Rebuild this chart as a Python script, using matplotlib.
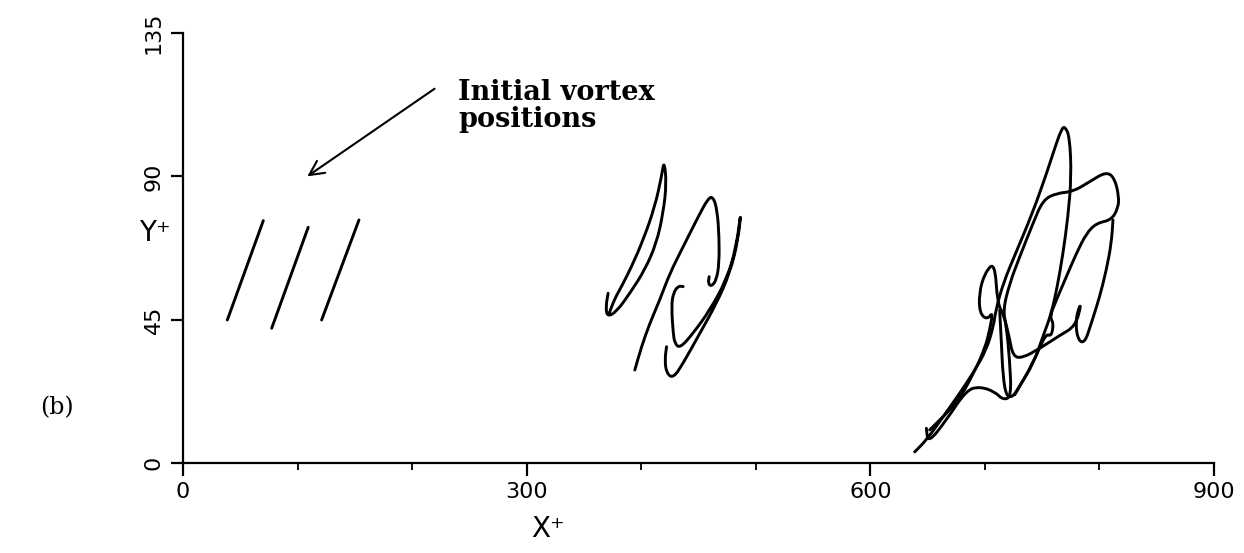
import matplotlib
matplotlib.use('Agg')
import matplotlib.pyplot as plt
from matplotlib.path import Path
from matplotlib.patches import PathPatch
import numpy as np

# initial vortex lines (x, y)
init_1 = [(38.7, 44.9), (70.1, 76.1)]
init_2 = [(77.4, 42.3), (109.3, 74.0)]
init_3 = [(121.0, 44.9), (153.6, 76.3)]

# middle time: three deformed vortices
mid_1 = [(371.1, 53.3), (369.1, 49.1), (370.3, 45.9), (378.4, 47.5), (390.1, 53.3),
         (403.1, 60.6), (413.3, 69.0), (419.1, 78.4), (422.1, 87.8), (420.0, 95.1),
         (417.7, 89.9), (411.9, 80.5), (401.7, 70.0), (391.5, 61.6), (382.8, 55.4),
         (377.0, 51.7), (372.0, 47.0)]
mid_2 = [(394.4, 29.2), (400.2, 36.5), (407.5, 43.9), (416.2, 51.2), (425.0, 59.6),
         (436.6, 67.9), (449.7, 77.3), (458.4, 83.1), (462.8, 83.6), (466.3, 79.4),
         (468.0, 71.1), (468.0, 62.7), (465.7, 57.5), (461.3, 55.4), (458.4, 56.4),
         (459.3, 58.5)]
mid_3 = [(436.6, 55.4), (432.2, 55.6), (427.9, 53.3), (426.4, 49.1), (427.9, 40.7),
         (429.3, 37.6), (433.7, 36.0), (445.3, 40.7), (459.9, 48.0), (474.4, 57.5),
         (483.1, 67.9), (487.5, 80.5), (484.6, 70.0), (477.3, 59.6), (465.7, 50.1),
         (451.1, 40.7), (436.6, 31.3), (427.9, 26.6), (422.1, 28.2), (420.6, 32.3),
         (422.1, 36.5)]

# late time: three deformed vortices
late_1 = [(638.7, 3.5), (648.9, 7.2), (663.5, 14.5), (678.0, 21.9), (689.6, 28.2),
          (701.3, 35.5), (707.5, 43.0), (709.5, 48.0), (716.0, 56.5), (727.0, 66.0),
          (741.0, 78.0), (753.0, 90.0), (762.0, 100.0), (766.7, 104.6), (769.6, 105.8),
          (774.0, 102.5), (775.5, 89.9), (772.5, 77.3), (768.2, 65.8), (763.0, 55.0),
          (758.0, 47.0), (751.0, 40.0), (742.0, 31.0), (730.0, 24.0), (724.5, 20.8),
          (718.8, 20.8), (715.8, 27.1), (714.4, 37.6), (712.9, 48.0)]
late_2 = [(648.9, 10.9), (650.4, 6.2), (666.4, 13.5), (683.8, 22.9), (695.5, 24.0),
          (708.6, 22.4), (715.8, 19.8), (723.1, 20.8), (721.6, 32.3), (718.8, 42.8),
          (715.8, 48.0), (721.6, 56.4), (730.4, 64.8), (742.0, 75.3), (750.7, 82.6),
          (762.4, 84.7), (776.9, 85.2), (791.4, 88.3), (806.0, 91.5), (813.3, 89.4),
          (817.0, 83.6), (816.2, 80.0), (810.4, 76.3), (797.3, 75.3), (788.6, 72.1),
          (779.8, 65.8), (771.1, 58.5), (762.4, 51.2), (756.5, 45.9), (760.0, 43.9),
          (758.0, 39.7), (753.1, 40.7), (742.0, 31.3), (726.0, 21.4)]
late_3 = [(811.8, 76.3), (810.4, 69.0), (806.0, 60.6), (800.2, 52.2), (792.9, 43.9),
          (787.1, 37.6), (781.2, 38.6), (779.2, 43.9), (781.2, 48.0), (784.2, 50.1),
          (779.2, 43.0), (765.0, 40.0), (748.0, 36.0), (733.0, 33.0), (724.5, 33.4),
          (721.0, 40.0), (716.0, 47.0), (711.0, 50.0), (708.6, 63.2), (699.8, 59.6),
          (694.9, 53.3), (695.5, 47.0), (702.0, 45.0), (707.0, 47.5), (704.2, 41.8),
          (700.0, 36.0), (690.0, 28.0), (676.0, 19.0), (651.8, 10.4)]

curves = [init_1, init_2, init_3, mid_1, mid_2, mid_3, late_1, late_2, late_3]

x_major = [0, 300, 600, 900]
x_minor = [100, 200, 400, 500, 700, 800]
y_major = [0, 45, 90, 135]

arrow_tail = (221.6, 118.0)
arrow_head = (106.5, 89.5)


def smooth_path(pts):
    # quadratic curve through the midpoints, traced points as controls
    pts = np.asarray(pts, dtype=float)
    if len(pts) < 3:
        return Path(pts)
    mids = (pts[:-1] + pts[1:]) / 2
    verts = [pts[0], mids[0]]
    codes = [Path.MOVETO, Path.LINETO]
    for i in range(1, len(pts) - 1):
        verts += [pts[i], mids[i]]
        codes += [Path.CURVE3, Path.CURVE3]
    verts.append(pts[-1])
    codes.append(Path.LINETO)
    return Path(verts, codes)


fig = plt.figure(figsize=(12.44, 5.53), dpi=100)
ax = fig.add_axes([0.1471, 0.1627, 0.8288, 0.7776])

for c in curves:
    ax.add_patch(PathPatch(smooth_path(c), fill=False, edgecolor='black', lw=2.1,
                           capstyle='round', joinstyle='round'))

ax.set_xlim(0, 900)
ax.set_ylim(0, 135)
ax.spines['top'].set_visible(False)
ax.spines['right'].set_visible(False)
ax.spines['left'].set_linewidth(1.6)
ax.spines['bottom'].set_linewidth(1.6)

ax.set_xticks(x_major)
ax.set_xticks(x_minor, minor=True)
ax.set_yticks(y_major)
ax.tick_params(axis='both', which='major', length=9, width=1.6, direction='out', labelsize=16, pad=5)
ax.tick_params(axis='x', which='minor', length=5, width=1.3, direction='out')
for lab in ax.get_yticklabels():
    lab.set_rotation(90)
    lab.set_va('center')

ax.set_xlabel('X⁺', fontsize=20)
ax.xaxis.set_label_coords(0.354, -0.12)
ax.set_ylabel('Y⁺', fontsize=20, rotation=0, va='center')
ax.yaxis.set_label_coords(-0.027, 0.535)

ax.annotate('', xy=arrow_head, xytext=arrow_tail,
            arrowprops=dict(arrowstyle='->', lw=1.5, color='black', mutation_scale=26))
ax.text(240, 120.5, 'Initial vortex\npositions', family='DejaVu Serif', fontweight='bold',
        fontsize=19.5, ha='left', va='top', linespacing=1.0)

fig.text(57 / 1244, 1 - 408 / 553, '(b)', family='DejaVu Serif', fontsize=17,
         ha='center', va='center')

fig.savefig('out.png', dpi=100)
